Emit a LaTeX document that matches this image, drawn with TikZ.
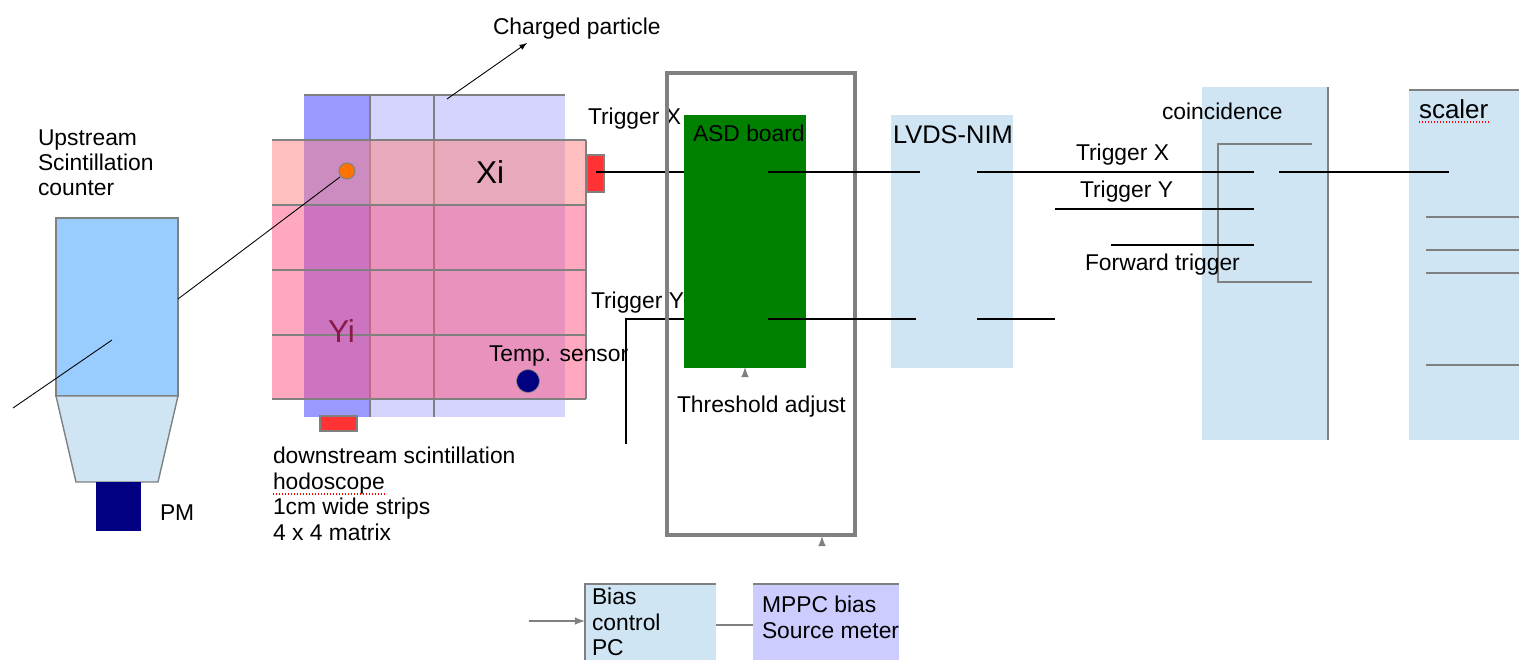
\documentclass[tikz,border=0pt]{standalone}
\usepackage{fontspec}
\setmainfont{Liberation Sans}
\definecolor{boxblue}{HTML}{CFE5F3}
\definecolor{ctrblue}{HTML}{99CCFF}
\definecolor{stripdark}{HTML}{9999FF}
\definecolor{striplight}{HTML}{D4D4FC}
\definecolor{striptop}{HTML}{FF8080}
\definecolor{striprow}{HTML}{FF5181}
\definecolor{asdgreen}{HTML}{008000}
\definecolor{pmnavy}{HTML}{000080}
\definecolor{srcblue}{HTML}{CCCCFF}
\definecolor{redtab}{HTML}{FF3333}
\definecolor{edgegray}{HTML}{808080}
\definecolor{yimaroon}{HTML}{8A1A48}
\begin{document}
\begin{tikzpicture}[x=0.02cm, y=-0.02cm, line cap=butt, line join=miter,
    lbl/.style={inner sep=0pt, outer sep=0pt, anchor=base west, font=\fontsize{13}{15}\selectfont},
    edge/.style={draw=edgegray, line width=1pt},
    wire/.style={black, line width=0.95pt},
    thin wire/.style={edgegray, line width=1pt},
    ray/.style={black, line width=0.5pt},
    tab/.style={fill=redtab, draw=edgegray, line width=0.9pt},
    stub/.style={edgegray, line width=1pt, -{latex}}]
  \useasboundingbox (0,0) rectangle (1519,660);
  % 上游计数器
  \fill[ctrblue, draw=edgegray, line width=0.8pt] (56,218) rectangle (178,396);
  \fill[boxblue, draw=edgegray, line width=0.8pt] (56,396) -- (178,396) -- (158,482) -- (76,482) -- cycle;
  \fill[pmnavy] (96,482) rectangle (141,531);
  \coordinate (rayA) at (13,408);
  \coordinate (rayB) at (112,340);
  \draw[ray] (rayA) -- (rayB);
  \node[lbl] (upA) at (38,145) {Upstream};
  \node[lbl] (upB) at (38,170) {Scintillation};
  \node[lbl] (upC) at (38,195) {counter};
  \node[lbl] (pm) at (160,520) {PM};
  % 竖条
  \fill[striplight] (370,95) rectangle (565,417);
  \fill[stripdark] (304,95) rectangle (370,417);
  \draw[edge] (304,95) -- (565,95);
  \draw[edge] (370,95) -- (370,417);
  \draw[edge] (434,95) -- (434,417);
  % 横条
  \fill[striptop, fill opacity=0.5] (272,140) rectangle (586,205);
  \fill[striprow, fill opacity=0.5] (272,205) rectangle (586,399);
  \draw[edge] (272,140) -- (586,140);
  \draw[edge] (272,205) -- (586,205);
  \draw[edge] (272,270) -- (586,270);
  \draw[edge] (272,335) -- (586,335);
  \draw[edge] (272,399) -- (586,399);
  \draw[edge] (586,140) -- (586,399);
  \fill[tab] (587,155) rectangle (604,192);
  \fill[tab] (320,416) rectangle (357,431);
  \node[lbl, font=\fontsize{18}{20}\selectfont, text=yimaroon] (yi) at (328,342) {Yi};
  \node[lbl, font=\fontsize{18}{20}\selectfont] (xi) at (476,183) {Xi};
  \fill[orange!90!red, draw=edgegray, line width=0.6pt] (347,171) circle (8);
  \fill[pmnavy, draw=edgegray, line width=0.4pt] (528,381) circle (11.5);
  \node[lbl] (temp) at (489,361) {Temp. sensor};
  \coordinate (rayC) at (178,299);
  \coordinate (rayD) at (340,177);
  \draw[ray] (rayC) -- (rayD);
  \coordinate (partA) at (447,99);
  \coordinate (partB) at (527,43);
  \draw[ray, -{latex}] (partA) -- (partB);
  \node[lbl] (part) at (493,34) {Charged particle};
  \node[lbl] (hodoA) at (273,463) {downstream scintillation};
  \node[lbl] (hodoB) at (273,489) {hodoscope};
  \node[lbl] (hodoC) at (273,514) {1cm wide strips};
  \node[lbl] (hodoD) at (273,540) {4 x 4 matrix};
  \draw[red, densely dotted, line width=0.7pt] (hodoB.base west) ++(0,5) -- ++(112,0);
  % 信号线在绿板之下
  \coordinate (xA) at (596,172);
  \coordinate (xB) at (684,172);
  \coordinate (yA) at (626,444);
  \coordinate (yB) at (626,319);
  \coordinate (yC) at (684,319);
  \draw[wire] (xA) -- (xB);
  \draw[wire] (yA) -- (yB) -- (yC);
  \node[lbl] (trigXa) at (588,124) {Trigger X};
  \node[lbl] (trigYa) at (591,308) {Trigger Y};
  % ASD 板
  \draw[edgegray, line width=2.3pt] (667,73) rectangle (855,535);
  \fill[asdgreen] (684,115) rectangle (806,368);
  \node[lbl, text=black] (asd) at (693,141) {ASD board};
  \node[lbl] (thr) at (677,412) {Threshold adjust};
  \coordinate (thrA) at (745,376);
  \coordinate (thrB) at (745,367);
  \draw[stub] (thrA) -- (thrB);
  \coordinate (frmA) at (822,544);
  \coordinate (frmB) at (822,536);
  \draw[stub] (frmA) -- (frmB);
  % LVDS、符合、定标
  \fill[boxblue] (891,115) rectangle (1013,368);
  \node[lbl, font=\fontsize{14.5}{17}\selectfont] (lvds) at (893,143) {LVDS-NIM};
  \fill[boxblue] (1202,87) rectangle (1328,440);
  \draw[edgegray, line width=1.2pt] (1328,87) -- (1328,440);
  \node[lbl] (coin) at (1162,119) {coincidence};
  \fill[boxblue] (1409,90) rectangle (1519,440);
  \draw[edgegray, line width=0.8pt] (1409,90) -- (1519,90);
  \node[lbl, font=\fontsize{14.8}{17}\selectfont] (scal) at (1419,118) {scaler};
  \draw[red, densely dotted, line width=0.7pt] (scal.base west) ++(0,4) -- ++(70,0);
  % 符合门
  \coordinate (gateA) at (1312,144);
  \coordinate (gateB) at (1218,144);
  \coordinate (gateC) at (1218,282);
  \coordinate (gateD) at (1312,282);
  \draw[thin wire] (gateA) -- (gateB) -- (gateC) -- (gateD);
  % 定标器通道
  \coordinate (chA) at (1426,217);
  \coordinate (chAe) at (1519,217);
  \coordinate (chB) at (1426,250);
  \coordinate (chBe) at (1519,250);
  \coordinate (chC) at (1426,273);
  \coordinate (chCe) at (1519,273);
  \coordinate (chD) at (1426,365);
  \coordinate (chDe) at (1519,365);
  \draw[thin wire] (chA) -- (chAe);
  \draw[thin wire] (chB) -- (chBe);
  \draw[thin wire] (chC) -- (chCe);
  \draw[thin wire] (chD) -- (chDe);
  % 黑色信号线
  \coordinate (sxA) at (768,172);
  \coordinate (sxB) at (920,172);
  \coordinate (sxC) at (977,172);
  \coordinate (sxD) at (1254,172);
  \coordinate (sxE) at (1279,172);
  \coordinate (sxF) at (1449,172);
  \coordinate (syA) at (768,319);
  \coordinate (syB) at (916,319);
  \coordinate (syC) at (977,319);
  \coordinate (syD) at (1055,319);
  \coordinate (cyA) at (1055,209);
  \coordinate (cyB) at (1254,209);
  \coordinate (cfA) at (1111,245);
  \coordinate (cfB) at (1254,245);
  \draw[wire] (sxA) -- (sxB);
  \draw[wire] (sxC) -- (sxD);
  \draw[wire] (sxE) -- (sxF);
  \draw[wire] (syA) -- (syB);
  \draw[wire] (syC) -- (syD);
  \draw[wire] (cyA) -- (cyB);
  \draw[wire] (cfA) -- (cfB);
  \node[lbl] (trigXb) at (1076,160) {Trigger X};
  \node[lbl] (trigYb) at (1080,197) {Trigger Y};
  \node[lbl] (fwd) at (1085,270) {Forward trigger};
  % 偏压
  \fill[boxblue] (585,584) rectangle (716,660);
  \draw[edge] (585,660) -- (585,584) -- (716,584);
  \fill[srcblue] (753,584) rectangle (899,660);
  \draw[edge] (753,584) -- (899,584);
  \coordinate (pcIn) at (529,621);
  \coordinate (pcTip) at (585,621);
  \draw[stub] (pcIn) -- (pcTip);
  \coordinate (pcOut) at (716,625);
  \coordinate (srcIn) at (753,625);
  \draw[thin wire] (pcOut) -- (srcIn);
  \node[lbl] (biasA) at (592,604) {Bias};
  \node[lbl] (biasB) at (592,630) {control};
  \node[lbl] (biasC) at (592,655) {PC};
  \node[lbl] (srcA) at (762,612) {MPPC bias};
  \node[lbl] (srcB) at (762,638) {Source meter};
\end{tikzpicture}
\end{document}
